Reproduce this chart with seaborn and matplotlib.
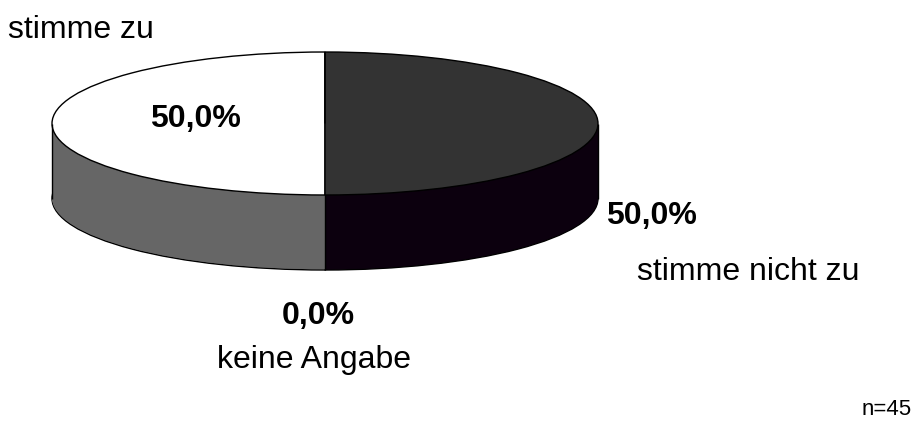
"""3D-style pie chart: stimme zu / stimme nicht zu / keine Angabe."""

import numpy as np
import matplotlib
matplotlib.use("Agg")
import matplotlib.pyplot as plt
import seaborn as sns

# data
categories = ["stimme zu", "stimme nicht zu", "keine Angabe"]
values = [50.0, 50.0, 0.0]
n_total = 45

# colours (top face / side wall)
top_colors = ["#ffffff", "#333333", "#999999"]
side_colors = ["#666666", "#0c000e", "#4d4d4d"]

sns.set_theme(style="white")
plt.rcParams['font.family'] = ['Liberation Sans', 'DejaVu Sans']
plt.rcParams['text.color'] = 'black'

W, H = 922, 421
fig = plt.figure(figsize=(W / 100, H / 100), dpi=100)
ax = fig.add_axes([0, 0, 1, 1])

# pie geometry in pixels (from top-left)
cx, cy = 325, 123.5
rx, ry = 273, 71.5
depth = 75 / ry


def pie_layer(y0, colors, edge):
    ax.pie(values, colors=colors, startangle=90, counterclock=True,
           radius=1, center=(0, y0),
           wedgeprops=dict(edgecolor="black" if edge else "none",
                           linewidth=1.0 if edge else 0))


# side walls: bottom outline then stacked layers
pie_layer(-depth, side_colors, True)
for y0 in np.linspace(-depth + 0.01, -0.01, 90):
    pie_layer(y0, side_colors, False)
pie_layer(0, top_colors, True)

# vertical edges: silhouette and visible slice boundaries
bounds = 90 + 360 * np.cumsum([0] + values) / sum(values)
xs = [-1, 1]
ys = [0, 0]
for b in bounds:
    t = np.deg2rad(b)
    if np.sin(t) < -1e-6:
        xs.append(np.cos(t))
        ys.append(np.sin(t))
for x, y in zip(xs, ys):
    ax.vlines(x, y - depth, y, colors="black", linewidth=1.0)

ax.set_aspect("auto")
ax.set_xlim((0 - cx) / rx, (W - cx) / rx)
ax.set_ylim((cy - H) / ry, (cy - 0) / ry)
ax.axis("off")


def label(px, py, s, **kw):
    fig.text(px / W, 1 - py / H, s, ha="center", va="baseline",
             color="black", **kw)


pct = [f"{v:.1f}%".replace(".", ",") for v in values]

label(81, 38, categories[0], fontsize=23)
label(195, 127, pct[0], fontsize=23, fontweight="bold")
label(651, 224, pct[1], fontsize=23, fontweight="bold")
label(748, 280, categories[1], fontsize=23)
label(318, 324, pct[2], fontsize=23, fontweight="bold")
label(314, 368, categories[2], fontsize=23)
label(887, 415, f"n={n_total}", fontsize=16)

fig.savefig("out.png", dpi=100)
